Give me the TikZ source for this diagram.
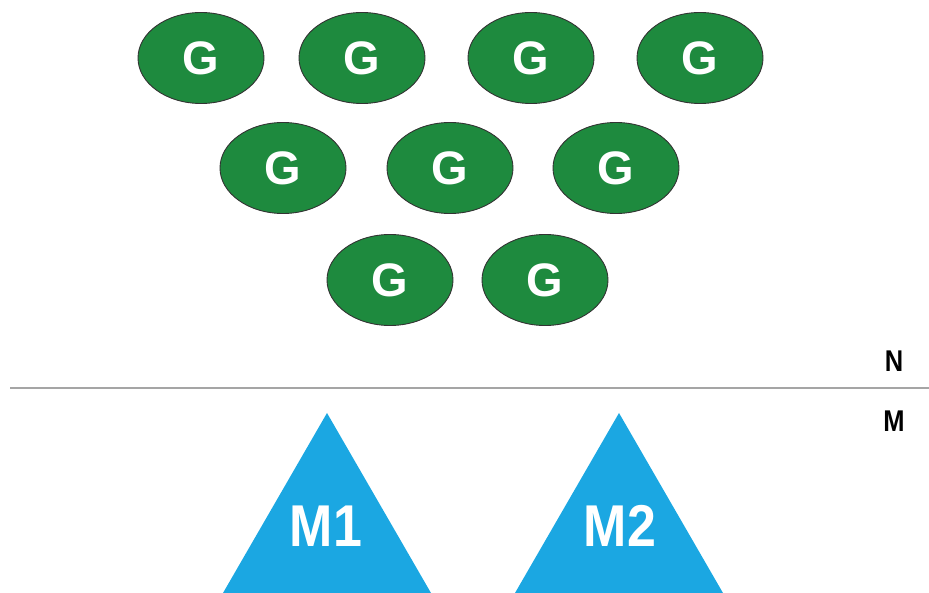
\documentclass[tikz,border=0pt]{standalone}
\usepackage{fontspec}
\setmainfont{Liberation Sans}
\usetikzlibrary{shapes.geometric}
\definecolor{ggreen}{RGB}{30,138,62}
\definecolor{mblue}{RGB}{27,167,226}
\definecolor{divider}{RGB}{165,165,165}
\tikzset{
  gnode/.style={ellipse, draw=black!80, line width=0.9pt, fill=ggreen,
    minimum width=126pt, minimum height=91pt, inner sep=0pt,
    text=white, font=\fontsize{47}{47}\selectfont\bfseries},
  mlabel/.style={text=white, font=\fontsize{59}{59}\selectfont\bfseries,
    xscale=0.88, inner sep=0pt},
  layerlabel/.style={font=\fontsize{30}{30}\selectfont\bfseries, xscale=0.85, inner sep=0pt}
}
\begin{document}
\begin{tikzpicture}[x=1pt, y=-1pt]
  \useasboundingbox (0,0) rectangle (929,593);
  % top row
  \node[gnode] (g1) at (201,58) {G};
  \node[gnode] (g2) at (362,58) {G};
  \node[gnode] (g3) at (531,58) {G};
  \node[gnode] (g4) at (700,58) {G};
  % middle row
  \node[gnode] (g5) at (283,168) {G};
  \node[gnode] (g6) at (450,168) {G};
  \node[gnode] (g7) at (616,168) {G};
  % bottom row
  \node[gnode] (g8) at (390,280) {G};
  \node[gnode] (g9) at (545,280) {G};
  % divider between layers
  \coordinate (lineL) at (10,388);
  \coordinate (lineR) at (929,388);
  \draw[divider, line width=2pt] (lineL) -- (lineR);
  \node[layerlabel] (N) at (894,361) {N};
  \node[layerlabel] (M) at (894,421) {M};
  % triangles
  \fill[mblue] (223,593) -- (327,413) -- (431,593) -- cycle;
  \fill[mblue] (515,593) -- (619,413) -- (723,593) -- cycle;
  \node[mlabel] (m1) at (326,526) {M1};
  \node[mlabel] (m2) at (620,526) {M2};
\end{tikzpicture}
\end{document}
